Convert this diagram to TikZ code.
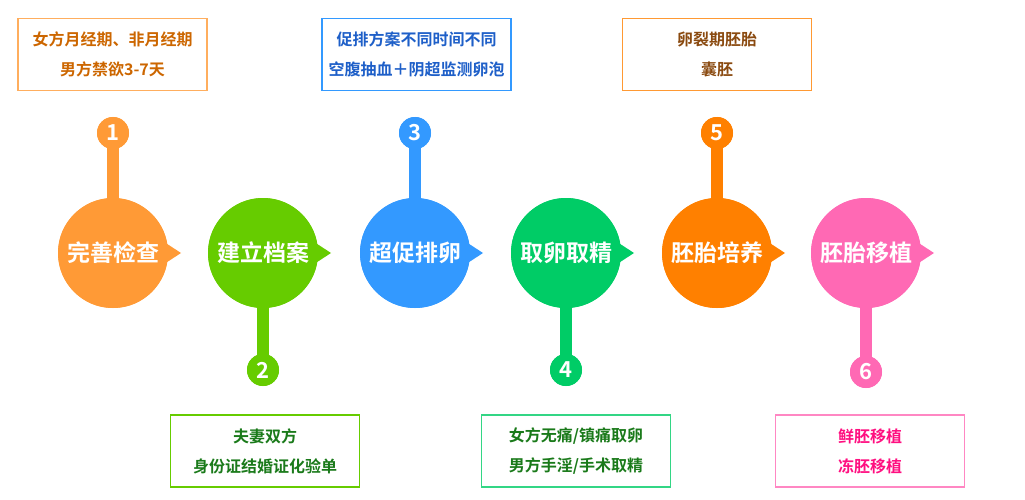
\documentclass[tikz,border=0pt]{standalone}
\usepackage{fontspec}
\newfontfamily\cjk{Noto Sans CJK SC}[BoldFont={Noto Sans CJK SC Bold}]
\definecolor{cA}{HTML}{FF9A36}
\definecolor{cB}{HTML}{66CC00}
\definecolor{cC}{HTML}{3399FF}
\definecolor{cD}{HTML}{00CC66}
\definecolor{cE}{HTML}{FF8000}
\definecolor{cF}{HTML}{FF69B4}
\definecolor{tA}{HTML}{CC6600}
\definecolor{tB}{HTML}{1A7A1A}
\definecolor{tC}{HTML}{1E5FC8}
\definecolor{tE}{HTML}{8A4A10}
\definecolor{tF}{HTML}{FF0F80}
\tikzset{
  big/.style={circle,minimum size=110pt,inner sep=0pt,text=white,font=\cjk\bfseries\fontsize{23}{26}\selectfont},
  num/.style={circle,minimum size=32pt,inner sep=0pt,text=white,font=\cjk\bfseries\fontsize{22}{24}\selectfont},
  infobox/.style={draw,line width=1.2pt,minimum width=189pt,minimum height=72pt,align=center,font=\cjk\bfseries\fontsize{16}{30}\selectfont},
}
\begin{document}
\begin{tikzpicture}[x=1pt,y=-1pt]
\useasboundingbox (0,0) rectangle (1025,500);
\foreach \cx/\c/\t/\n/\ny/\nm in {113/cA/完善检查/1/133/a, 263/cB/建立档案/2/370/b, 415/cC/超促排卵/3/133/c, 566/cD/取卵取精/4/370/d, 717/cE/胚胎培养/5/133/e, 866/cF/胚胎移植/6/372/f}{
  \fill[\c] (\cx+45,238) -- (\cx+68,253) -- (\cx+45,268) -- cycle;
  \node[big,fill=\c] (m\nm) at (\cx,253) {};
  \node[num,fill=\c] (n\nm) at (\cx,\ny) {\n};
  \fill[\c] (\cx-6,\ny) rectangle (\cx+6,253);
  \node[big,fill=\c] at (\cx,253) {\t};
  \node[num,fill=\c] at (\cx,\ny) {\n};
}
\node[infobox,draw=cA!80,text=tA] (ba) at (112.5,54.5) {女方月经期、非月经期\\男方禁欲3-7天};
\node[infobox,draw=cC,text=tC] (bc) at (416.5,54.5) {促排方案不同时间不同\\空腹抽血＋阴超监测卵泡};
\node[infobox,draw=cE!80,text=tE] (be) at (717,54.5) {卵裂期胚胎\\囊胚};
\node[infobox,draw=cB,text=tB] (bb) at (265,451) {夫妻双方\\身份证结婚证化验单};
\node[infobox,draw=cD!80,text=tB] (bd) at (576,451) {女方无痛/镇痛取卵\\男方手淫/手术取精};
\node[infobox,draw=cF!80,text=tF] (bf) at (870,451) {鲜胚移植\\冻胚移植};
\end{tikzpicture}
\end{document}
